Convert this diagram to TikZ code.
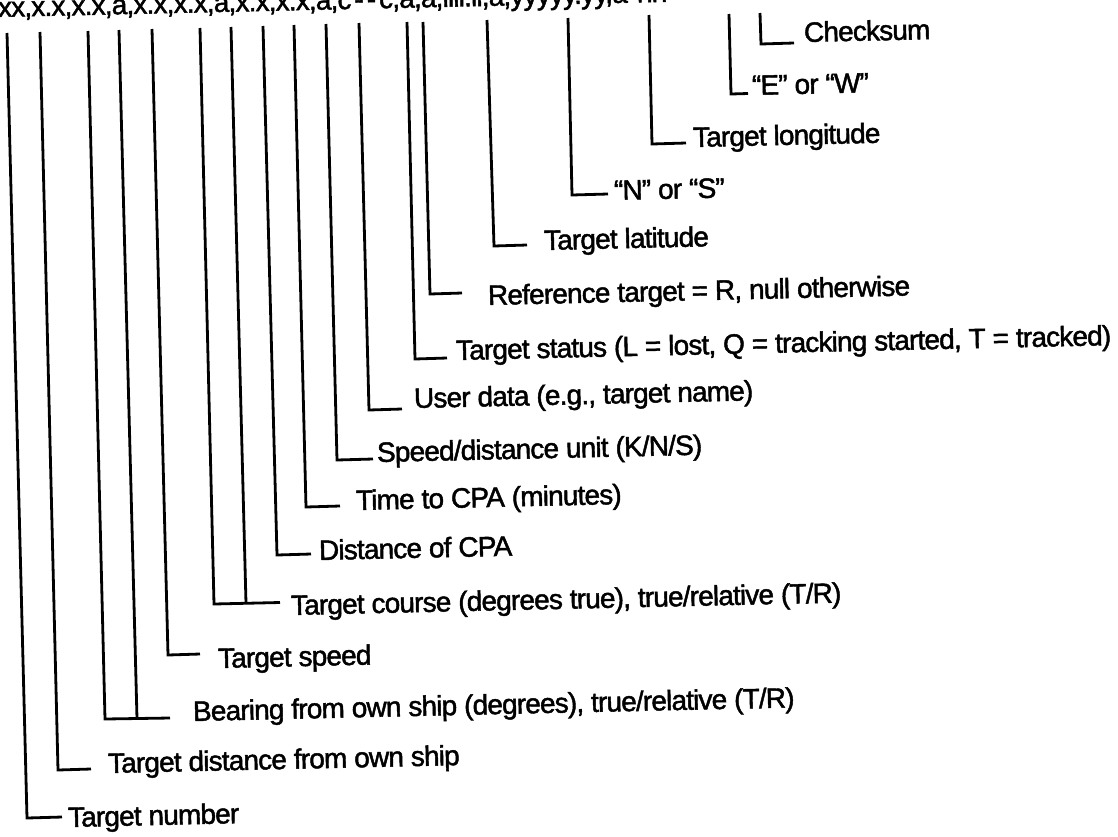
\documentclass[tikz,border=0pt]{standalone}
\usepackage{fontspec}
\setmainfont{Liberation Sans}[LetterSpace=-3.0, FakeBold=1.6]
\begin{document}
\begin{tikzpicture}[x=1pt,y=-1pt,
  conn/.style={line width=2.8pt, line join=miter, line cap=butt},
  lbl/.style={anchor=base west, inner sep=0pt, rotate=1.3, font=\fontsize{28}{30}\selectfont}]
\useasboundingbox (0,0) rectangle (1118,836);
\clip (0,0) rectangle (1118,836);
\fill[white] (0,0) rectangle (1118,836);
% sentence format (top, cut off)
\node[lbl] (fmt) at (-2,17) {xx,x.x,x.x,a,x.x,x.x,a,x.x,x.x,a,c\kern3pt-\kern3pt-\kern3pt c,a,a,llll.ll,a,yyyyy.yy,a*hh};
% 1 Target number
\coordinate (t1) at (7,33); \coordinate (c1) at (27,818); \coordinate (e1) at (62,817);
\node[lbl] (l1) at (68,827) {Target number};
\draw[conn] (t1) -- (c1) -- (e1);
% 2 Target distance
\coordinate (t2) at (40,32); \coordinate (c2) at (58,770); \coordinate (e2) at (91,769);
\node[lbl] (l2) at (108,773) {Target distance from own ship};
\draw[conn] (t2) -- (c2) -- (e2);
% 3 Bearing
\coordinate (t3a) at (88,31); \coordinate (c3a) at (105,719);
\coordinate (t3b) at (119,30); \coordinate (c3b) at (137,718.5); \coordinate (e3) at (170,718);
\node[lbl] (l3) at (193,721) {Bearing from own ship (degrees), true/relative (T/R)};
\draw[conn] (t3a) -- (c3a) -- (e3);
\draw[conn] (t3b) -- (c3b);
% 4 Target speed
\coordinate (t4) at (152,29); \coordinate (c4) at (168,655); \coordinate (e4) at (200,654);
\node[lbl] (l4) at (218,668) {Target speed};
\draw[conn] (t4) -- (c4) -- (e4);
% 5 Target course
\coordinate (t5a) at (200,28); \coordinate (c5a) at (214,604);
\coordinate (t5b) at (231,27); \coordinate (c5b) at (246,603.3); \coordinate (e5) at (280,602.5);
\node[lbl] (l5) at (291,615) {Target course (degrees true), true/relative (T/R)};
\draw[conn] (t5a) -- (c5a) -- (e5);
\draw[conn] (t5b) -- (c5b);
% 6 Distance of CPA
\coordinate (t6) at (263,26); \coordinate (c6) at (277,555); \coordinate (e6) at (311,554);
\node[lbl] (l6) at (319,560) {Distance of CPA};
\draw[conn] (t6) -- (c6) -- (e6);
% 7 Time to CPA
\coordinate (t7) at (294,25); \coordinate (c7) at (306,507); \coordinate (e7) at (340,506);
\node[lbl] (l7) at (356,510) {Time to CPA (minutes)};
\draw[conn] (t7) -- (c7) -- (e7);
% 8 Speed/distance unit
\coordinate (t8) at (326,24); \coordinate (c8) at (337,460); \coordinate (e8) at (373,459);
\node[lbl] (l8) at (377,462) {Speed/distance unit (K/N/S)};
\draw[conn] (t8) -- (c8) -- (e8);
% 9 User data
\coordinate (t9) at (359,23); \coordinate (c9) at (369,410); \coordinate (e9) at (402,409);
\node[lbl] (l9) at (414,408) {User data (e.g., target name)};
\draw[conn] (t9) -- (c9) -- (e9);
% 10 Target status
\coordinate (t10) at (407,22); \coordinate (c10) at (415,359); \coordinate (e10) at (447,358);
\node[lbl] (l10) at (456,360) {Target status (L = lost, Q = tracking started, T = tracked)};
\draw[conn] (t10) -- (c10) -- (e10);
% 11 Reference target
\coordinate (t11) at (423,22); \coordinate (c11) at (430,294); \coordinate (e11) at (462,293);
\node[lbl] (l11) at (488,305) {Reference target = R, null otherwise};
\draw[conn] (t11) -- (c11) -- (e11);
% 12 Target latitude
\coordinate (t12) at (487,20); \coordinate (c12) at (494,246); \coordinate (e12) at (527,245);
\node[lbl] (l12) at (544,250) {Target latitude};
\draw[conn] (t12) -- (c12) -- (e12);
% 13 N or S
\coordinate (t13) at (568,18); \coordinate (c13) at (572,195); \coordinate (e13) at (608,194);
\node[lbl] (l13) at (614,200) {“N” or “S”};
\draw[conn] (t13) -- (c13) -- (e13);
% 14 Target longitude
\coordinate (t14) at (649,15); \coordinate (c14) at (652,144); \coordinate (e14) at (686,143);
\node[lbl] (l14) at (693,147) {Target longitude};
\draw[conn] (t14) -- (c14) -- (e14);
% 15 E or W
\coordinate (t15) at (729,14); \coordinate (c15) at (731,94); \coordinate (e15) at (748,93.5);
\node[lbl] (l15) at (752,95) {“E” or “W”};
\draw[conn] (t15) -- (c15) -- (e15);
% 16 Checksum
\coordinate (t16) at (760,13); \coordinate (c16) at (761,44); \coordinate (e16) at (794,43);
\node[lbl] (l16) at (804,42) {Checksum};
\draw[conn] (t16) -- (c16) -- (e16);
\end{tikzpicture}
\end{document}
